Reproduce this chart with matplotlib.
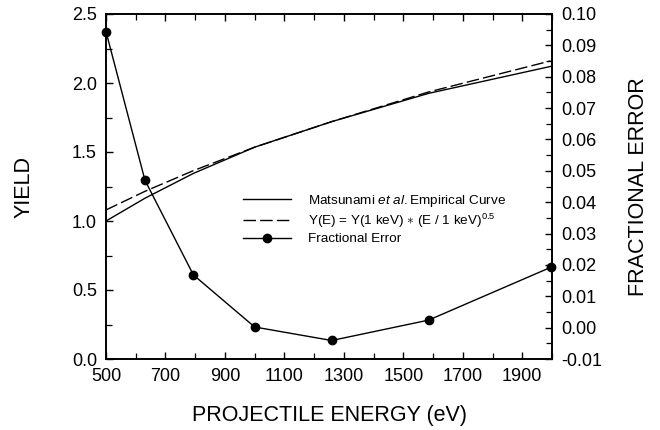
import matplotlib
matplotlib.use('Agg')
import matplotlib.pyplot as plt
from matplotlib.ticker import MultipleLocator, FormatStrFormatter

plt.rcParams['font.family'] = ['Liberation Sans', 'DejaVu Sans']
plt.rcParams['mathtext.fontset'] = 'custom'
plt.rcParams['mathtext.rm'] = 'Liberation Sans'
plt.rcParams['mathtext.it'] = 'Liberation Sans:italic'

# Data
energy = [500, 631, 794, 1000, 1259, 1585, 1995]
yield_matsunami = [1.00, 1.165, 1.345, 1.535, 1.72, 1.925, 2.12]
yield_power = [1.08, 1.215, 1.365, 1.535, 1.72, 1.935, 2.16]
frac_error = [0.0944, 0.0470, 0.0168, 0.0002, -0.0041, 0.0024, 0.0192]

xticks = [500, 700, 900, 1100, 1300, 1500, 1700, 1900]
legend_labels = [r'Matsunami $\it{et\ al.}$Empirical Curve',
                 r'Y(E) = Y(1 keV) $\ast$ (E / 1 keV)$^{0.5}$',
                 'Fractional Error']

W, H = 660, 430
fig = plt.figure(figsize=(W / 100, H / 100), dpi=100)
# axes box in pixels: x 106..552, y 14..359
ax = fig.add_axes([106 / W, 1 - 359 / H, 446 / W, 345 / H])
ax2 = ax.twinx()

l1, = ax.plot(energy, yield_matsunami, 'k-', lw=1.0)
l2, = ax.plot(energy, yield_power, 'k--', lw=1.0, dashes=(9, 3))
l3, = ax2.plot(energy, frac_error, 'k-', lw=1.0, marker='o', ms=6, clip_on=False)

ax.set_xlim(500, 2000)
ax.set_ylim(0, 2.5)
ax2.set_ylim(-0.01, 0.10)

ax.set_xticks(xticks)
ax.xaxis.set_minor_locator(MultipleLocator(100))
ax.yaxis.set_major_locator(MultipleLocator(0.5))
ax.yaxis.set_minor_locator(MultipleLocator(0.25))
ax2.yaxis.set_major_locator(MultipleLocator(0.01))
ax2.yaxis.set_minor_locator(MultipleLocator(0.005))
ax.yaxis.set_major_formatter(FormatStrFormatter('%.1f'))
ax2.yaxis.set_major_formatter(FormatStrFormatter('%.2f'))

ax.tick_params(axis='x', which='both', direction='in', top=True)
ax.tick_params(axis='y', which='both', direction='in', right=False)
ax2.tick_params(axis='y', which='both', direction='in')
for a in (ax, ax2):
    a.tick_params(which='major', length=5, width=1, labelsize=13, pad=6.5)
    a.tick_params(which='minor', length=4, width=0.9)
    for s in a.spines.values():
        s.set_linewidth(1.2)

# axis titles
fig.text(24 / W, 1 - 186.5 / H, 'YIELD', rotation=90, ha='center', va='center', fontsize=15.5)
fig.text(639 / W, 1 - 186.5 / H, 'FRACTIONAL ERROR', rotation=90, ha='center', va='center', fontsize=15.5)
fig.text(329 / W, 1 - 415 / H, 'PROJECTILE ENERGY (eV)', ha='center', va='center', fontsize=15.5)

ax.legend([l1, l2, l3], legend_labels,
          loc='upper left', bbox_to_anchor=(0.307, 0.482), frameon=False,
          borderpad=0, borderaxespad=0,
          handlelength=3.6, handletextpad=1.2, labelspacing=0.22,
          prop={'size': 9.7})

fig.savefig('out.png', dpi=100)
